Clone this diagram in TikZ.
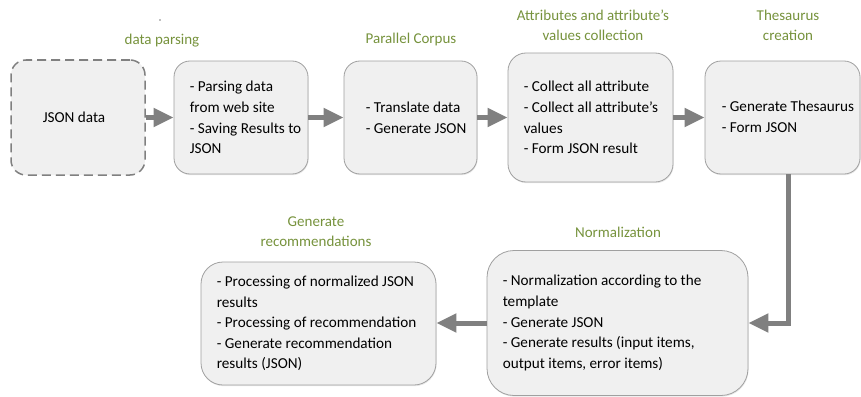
\documentclass[tikz,border=0pt]{standalone}
\usepackage{fontspec}
\setmainfont{Carlito}
\usetikzlibrary{arrows.meta,calc,shadows}
\definecolor{boxfill}{HTML}{F0F0F0}
\definecolor{boxline}{HTML}{A0A0A0}
\definecolor{arrowgray}{HTML}{808080}
\definecolor{titlegreen}{HTML}{76923C}
\definecolor{txt}{HTML}{000000}
\tikzset{
  stage/.style={draw=boxline, line width=0.8pt, fill=boxfill, inner sep=0pt,
    drop shadow={opacity=0.18, shadow xshift=0.6pt, shadow yshift=-1.2pt}},
  dashedstage/.style={draw=arrowgray, line width=1.5pt, fill=boxfill, inner sep=0pt,
    dash pattern=on 9pt off 5pt, rounded corners=15pt},
  body/.style={font=\fontsize{15.2}{20.6}\selectfont, text=txt, align=left, inner sep=0pt, anchor=west},
  title/.style={font=\fontsize{15}{20}\selectfont, text=titlegreen, align=center, inner sep=0pt},
  flow/.style={draw=arrowgray, line width=5pt, -{Triangle[length=20pt,width=18pt]}}
}
\begin{document}
\begin{tikzpicture}[x=1pt,y=-1pt]
\useasboundingbox (0,0) rectangle (861,396);
% stray dot
\fill[arrowgray] (160,20) circle (0.8);
% boxes
\node[dashedstage, minimum width=134pt, minimum height=115pt] (b1) at (78,117.5) {};
\node[font=\fontsize{15.2}{20.6}\selectfont, text=txt, inner sep=0pt] (t1) at (74,117.5) {JSON data};
\node[stage, rounded corners=16pt, minimum width=134pt, minimum height=113pt] (b2) at (241,117.5) {};
\node[stage, rounded corners=16pt, minimum width=133pt, minimum height=113pt] (b3) at (410.5,117.5) {};
\node[stage, rounded corners=18pt, minimum width=165pt, minimum height=129pt] (b4) at (590.5,117.5) {};
\node[stage, rounded corners=16pt, minimum width=155pt, minimum height=113pt] (b5) at (782.5,117.5) {};
\node[stage, rounded corners=22pt, minimum width=235pt, minimum height=123pt] (b6) at (318.5,323.5) {};
\node[stage, rounded corners=27pt, minimum width=261pt, minimum height=145pt] (b7) at (617.5,323) {};
% box texts
\node[body] (t2) at ($(b2.west)+(16,0)$) {- Parsing data\\from web site\\- Saving Results to\\JSON};
\node[body] (t3) at ($(b3.west)+(22,0)$) {- Translate data\\- Generate JSON};
\node[body] (t4) at ($(b4.west)+(16,0)$) {- Collect all attribute\\- Collect all attribute’s\\values\\- Form JSON result};
\node[body] (t5) at ($(b5.west)+(17,-1)$) {- Generate Thesaurus\\- Form JSON};
\node[body] (t6) at ($(b6.west)+(16,0)$) {- Processing of normalized JSON\\results\\- Processing of recommendation\\- Generate recommendation\\results (JSON)};
\node[body] (t7) at ($(b7.west)+(16,0)$) {- Normalization according to the\\template\\- Generate JSON\\- Generate results (input items,\\output items, error items)};
% titles
\node[title] (h2) at (162,41) {data parsing};
\node[title] (h3) at (411,40) {Parallel Corpus};
\node[title] (h4) at (593,25) {Attributes and attribute’s\\values collection};
\node[title] (h5) at (788,25) {Thesaurus\\creation};
\node[title] (h6) at (316,232) {Generate\\recommendations};
\node[title] (h7) at (618,232) {Normalization};
% connectors
\draw[flow] (b1.east) -- (b2.west);
\draw[flow] (b2.east) -- (b3.west);
\draw[flow] (b3.east) -- (b4.west);
\draw[flow] (b4.east) -- (b5.west);
\draw[flow, line cap=butt] ($(b5.south)+(5.5,0)$) |- (b7.east);
\draw[flow] (b7.west) -- ($(b6.east)+(0,-0.5)$);
\end{tikzpicture}
\end{document}
